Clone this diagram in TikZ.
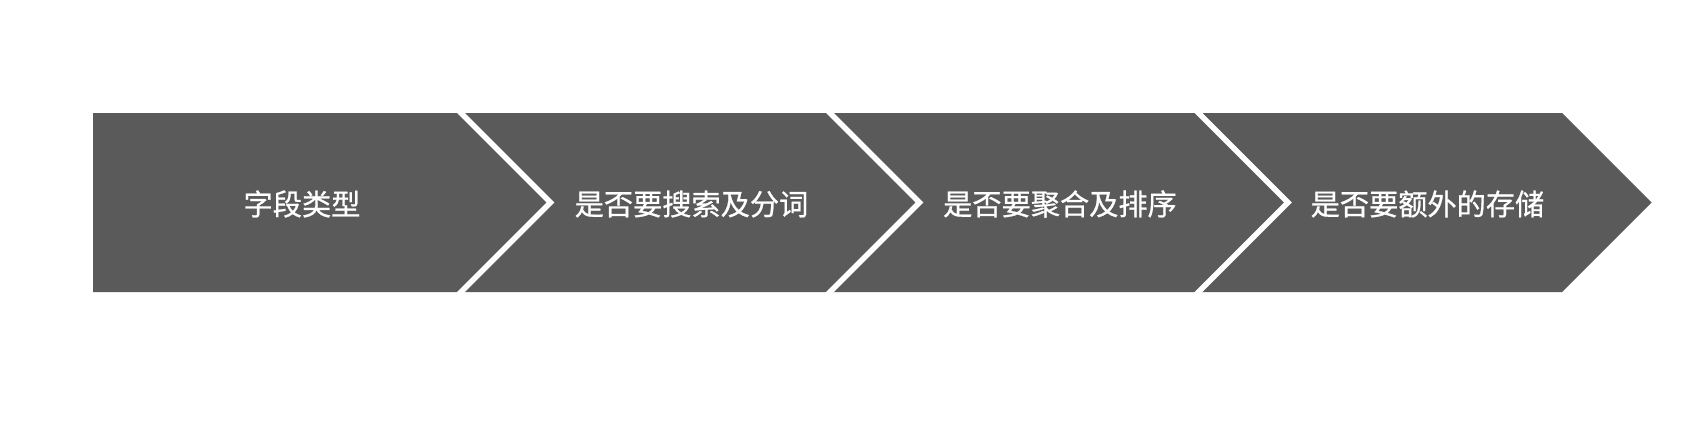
\documentclass[tikz,border=0pt]{standalone}
\usepackage{fontspec}
\newfontfamily\cjk[FakeBold=0.8]{Noto Sans CJK SC}
\definecolor{arrowgray}{HTML}{5A5A5A}
\tikzset{
  seam/.style={draw=white, line width=5.5pt, miter limit=10, line join=miter},
  label/.style={text=white, font=\cjk\fontsize{29.2pt}{33pt}\selectfont, inner sep=0pt, anchor=center}
}
\begin{document}
\begin{tikzpicture}[x=1pt,y=-1pt]
\useasboundingbox[fill=white] (0,0) rectangle (1706,426);
\fill[arrowgray] (93,113) -- (1562,113) -- (1651.5,202.5) -- (1562,292) -- (93,292) -- cycle;
\foreach \s in {461,830,1198.5}{
  \draw[seam] (\s-8,105) -- (\s+89.5,202.5) -- (\s-8,300);
}
\node[label] (t1) at (302,204) {字段类型};
\node[label] (t2) at (691.5,204) {是否要搜索及分词};
\node[label] (t3) at (1060,204) {是否要聚合及排序};
\node[label] (t4) at (1427.5,204) {是否要额外的存储};
\end{tikzpicture}
\end{document}
